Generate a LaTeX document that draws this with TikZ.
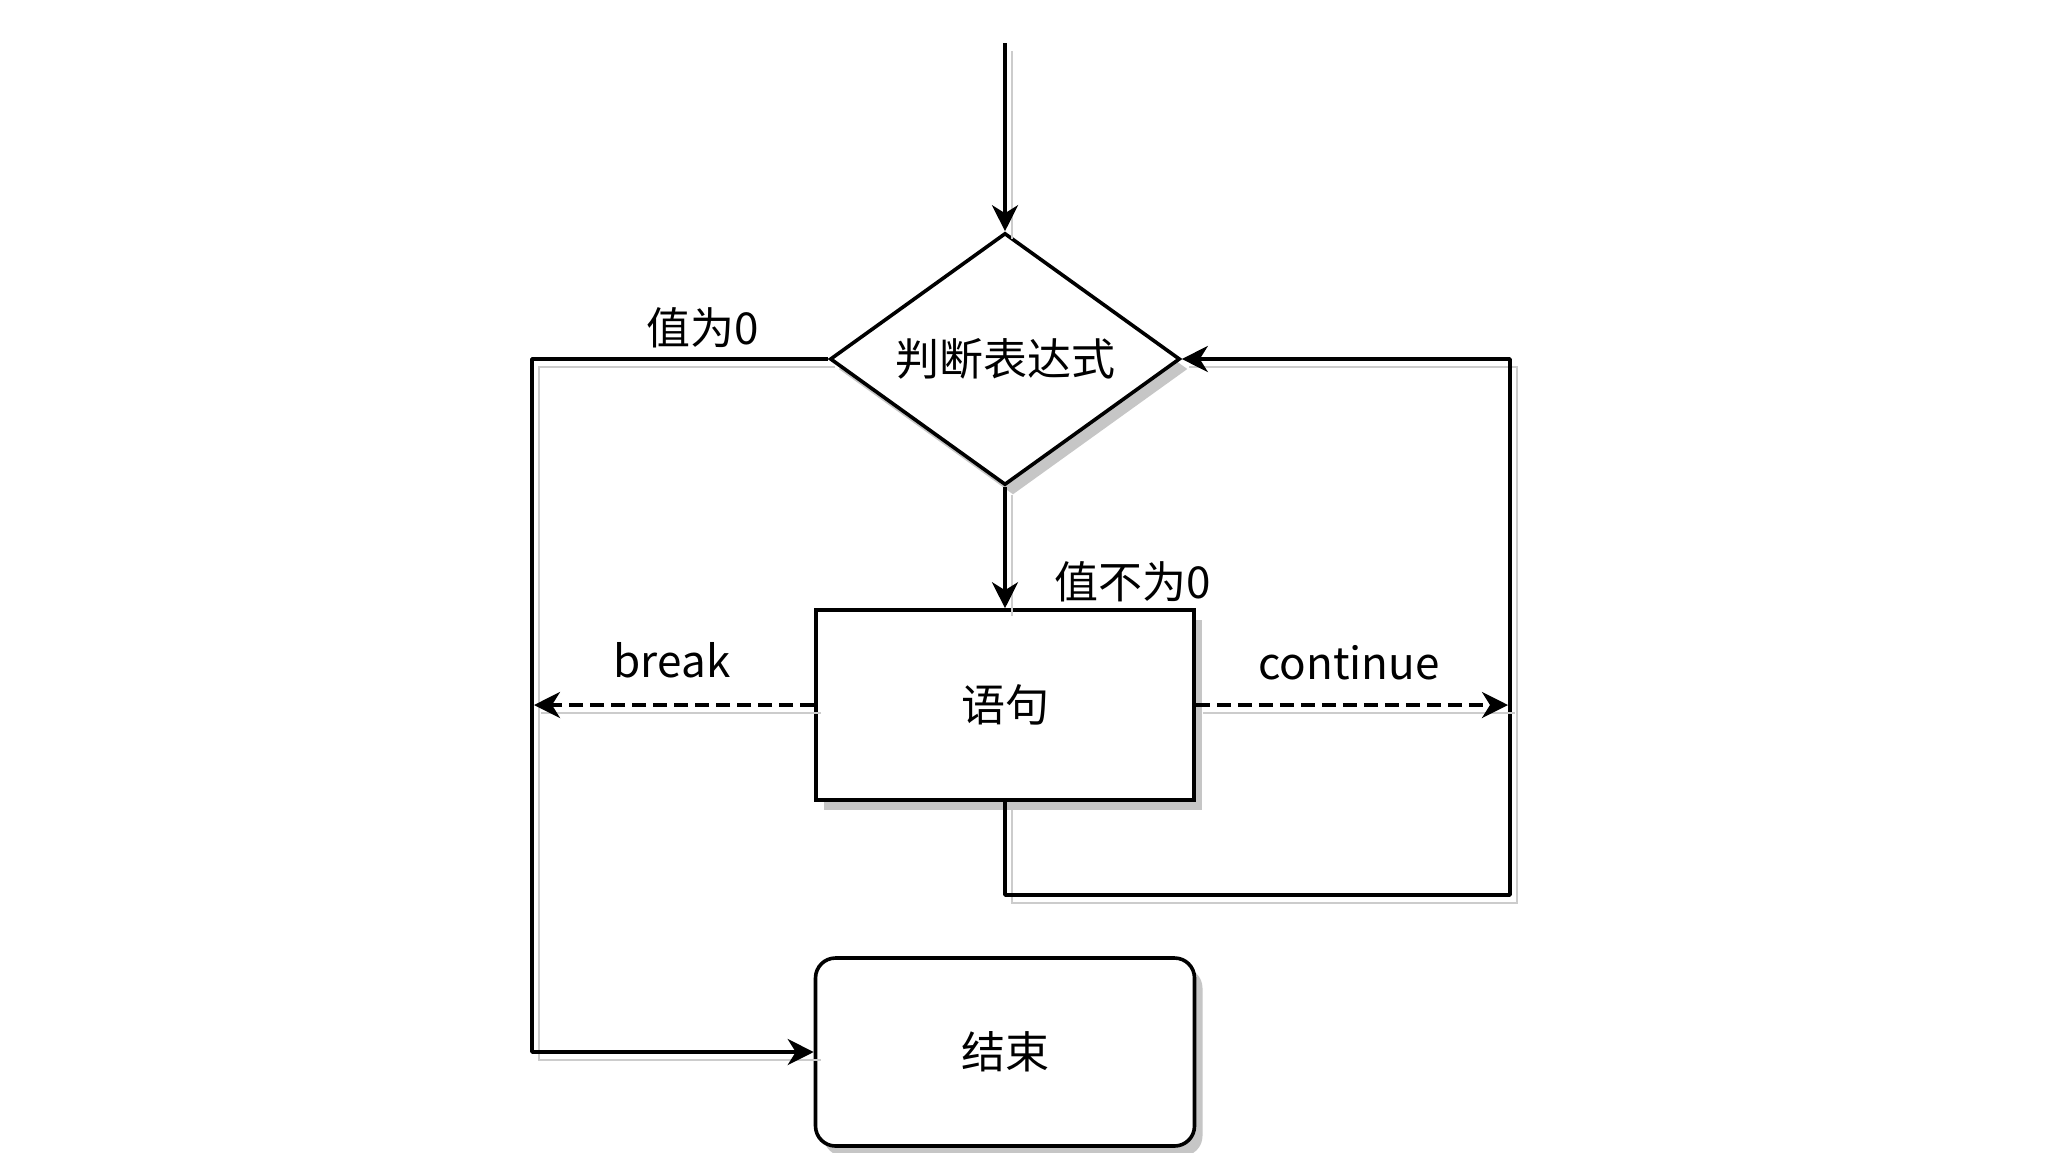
\documentclass[tikz,border=0pt]{standalone}
\usepackage{fontspec}
\newfontfamily\cjk{Noto Sans CJK SC}
\usetikzlibrary{shapes.geometric,arrows.meta,shadows}
\begin{document}
\begin{tikzpicture}[x=0.5pt,y=-0.5pt,
  every node/.style={font=\cjk\fontsize{22}{26}\selectfont},
  ln/.style={line width=1.8pt, line join=round, preaction={-,draw=gray!40,line width=0.8pt,transform canvas={shift={(3.5pt,-4pt)}}}},
  arr/.style={ln,-{Stealth[length=13pt,width=13pt,inset=4pt]}},
  dsh/.style={arr, dash pattern=on 7pt off 3.5pt},
  shp/.style={draw, line width=1.8pt, fill=white, inner sep=0pt, drop shadow={shadow xshift=4pt,shadow yshift=-5pt,fill=gray!45,opacity=1}},
  lbl/.style={inner sep=0pt}
]
\fill[white] (0,0) rectangle (2048,1152);
\useasboundingbox (0,0) rectangle (2048,1152);

\node[shp, diamond, aspect=1.4, minimum width=175pt, minimum height=126pt] (dec) at (1005,359) {判断表达式};
\node[shp, rectangle, minimum width=189pt, minimum height=95pt] (stmt) at (1005,705) {语句};
\node[shp, rectangle, rounded corners=10pt, minimum width=189.5pt, minimum height=94pt] (end) at (1005,1052) {结束};

\coordinate (start) at (1005,43);
\coordinate (lt) at (532,359);
\coordinate (lb) at (532,1052);
\coordinate (rt) at (1510,359);
\coordinate (rb) at (1510,895);
\coordinate (bk) at (534,705);
\coordinate (ct) at (1508,705);

\draw[arr] (start) -- (dec.north);
\draw[arr] (dec.west) -- (lt) -- (lb) -- (end.west);
\draw[arr] (dec.south) -- (stmt.north);
\draw[arr] (stmt.south) -- (stmt.south |- rb) -- (rb) -- (rt) -- (dec.east);
\draw[dsh] (stmt.west) -- (bk);
\draw[dsh] (stmt.east) -- (ct);

\node[lbl] (l0) at (703,328) {值为0};
\node[lbl] (l1) at (1133,582) {值不为0};
\node[lbl] (lbrk) at (672,660) {break};
\node[lbl] (lcont) at (1349,663) {continue};
\end{tikzpicture}
\end{document}
